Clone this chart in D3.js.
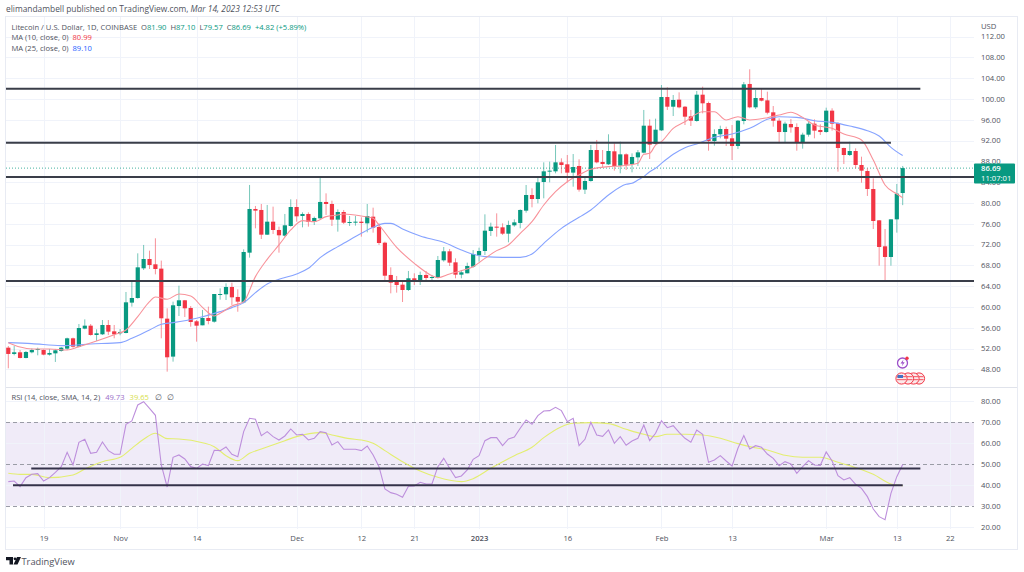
<!DOCTYPE html>
<html><head><meta charset="utf-8">
<script src="https://cdn.jsdelivr.net/npm/d3@7"></script>
<style>html,body{margin:0;padding:0;background:#fff}svg{display:block}text{font-family:"Open Sans","Noto Sans",sans-serif}</style>
</head><body><svg id="c" width="1024" height="572"></svg>
<script>
const opens=[52.16,50.95,51.27,50.18,51.27,51.78,51.71,50.82,51.07,51.52,51.97,53.96,52.35,55.82,56.39,54.6,54.73,56.52,55.3,54.92,54.98,60.82,61.71,67.42,69.21,68.19,67.36,57.74,50.44,60.17,61.27,59.79,57.23,56.46,57.87,57.16,62.42,62.42,63.83,61.91,60.88,70.43,78.83,78.64,73.89,76.39,74.79,73.7,75.56,79.21,77.48,77.87,76.33,77.04,80.18,79.79,76.78,78.25,76.2,76.26,76.39,76.07,77.35,75.37,72.35,66.14,64.85,64.28,63.25,65.5,65.05,66.14,65.62,65.56,68.96,70.69,68.57,66.2,66.46,67.74,69.92,70.75,74.6,75.43,75.3,74.08,75.69,76.14,78.51,81.52,80.75,84.02,86.07,86.07,87.8,87.42,85.82,87.1,82.55,84.21,90.17,87.87,87.42,89.92,87.16,89.34,87.48,88.76,89.66,94.85,91.33,93.95,100.36,98.5,99.85,98.5,96.65,95.75,100.81,99.21,91.9,93.19,94.21,92.42,90.94,95.75,102.87,98.38,100.17,99.72,97.42,95.81,93.63,95.17,94.6,91.65,93.12,95.24,94.02,93.63,97.74,95.37,90.56,89.21,89.98,87.29,86.13,82.67,76.65,71.65,69.6,76.84,81.9];
const highs=[52.48,52.48,51.71,51.52,52.03,52.16,51.84,51.91,51.91,52.29,54.09,54.09,56.71,57.6,56.71,55.69,57.48,57.48,56.52,55.75,62.87,64.79,70.3,71.91,70.82,73.19,68.9,59.73,61.01,64.08,61.33,60.17,57.48,59.41,60.05,62.48,63.57,64.53,64.66,63.38,71.07,83.45,79.41,79.79,79.6,79.28,75.43,77.87,80.69,80.69,78.19,78.19,77.36,84.92,81.84,80.43,78.76,78.64,77.48,77.48,77.23,79.79,79.08,76.07,72.55,67.61,65.94,65.17,66.91,66.46,66.78,66.91,66.14,69.79,71.52,71.14,69.34,67.1,68.51,70.94,71.39,77.8,76.2,77.99,76.07,76.58,76.84,78.76,83.44,82.8,84.85,87.8,87.93,91.14,88.57,89.21,89.4,88.38,85.05,91.14,92.1,90.17,93.19,91.46,91.78,89.53,89.53,90.17,97.87,96.07,96.2,102.67,102.22,100.75,101.26,98.63,97.87,101.52,102.35,99.47,94.15,94.85,94.66,94.98,95.94,103.25,105.69,101.71,102.03,101.39,98.63,96.26,95.62,96.13,95.3,93.5,95.62,96.07,95.11,98.31,98.19,95.49,90.62,91.77,90.49,88.89,86.65,84.72,76.71,74.98,76.84,83.64,87.1];
const lows=[48.19,50.69,50.11,50.11,51.07,50.69,50.69,50.63,49.41,51.39,51.71,52.16,52.23,55.69,54.47,53.45,54.6,54.6,53.96,54.54,54.92,60.05,61.58,67.1,67.29,66.26,53.96,47.55,49.47,58.25,58.06,56.2,53.32,56.46,56.65,56.97,61.39,61.33,60.37,59.07,60.69,69.47,75.11,73.06,73.83,74.02,70.43,73.51,75.43,76.39,75.3,75.43,75.75,76.84,77.68,75.56,74.47,75.94,75.56,75.62,73.51,74.34,74.28,71.91,65.17,62.61,62.74,60.94,63.06,64.21,64.21,64.85,65.05,65.5,68.7,67.87,65.5,65.5,66.46,67.55,68.7,69.98,73.64,73.51,73.83,72.42,75.43,75.11,78.12,79.15,79.92,80.88,83.96,85.69,85.69,83.89,83.12,82.16,81.71,84.08,87.61,86.84,87.29,86.2,85.69,86.33,85.88,87.1,89.53,88.44,91.2,93.83,97.87,96.71,98.19,94.98,94.79,95.62,97.22,90.04,91.0,92.42,90.94,88.25,90.36,95.11,98.19,98.06,99.53,97.03,94.66,91.58,91.58,93.5,90.04,90.43,92.74,92.42,93.06,93.5,93.89,86.01,87.48,89.02,86.65,83.89,81.33,74.98,67.93,65.17,67.93,74.28,79.57];
const closes=[50.95,51.27,50.18,51.33,51.71,51.91,50.82,51.14,51.65,52.16,53.96,52.35,55.94,56.39,54.6,54.92,56.52,55.24,54.73,55.18,60.88,61.71,67.61,69.21,68.06,67.29,57.81,50.31,60.31,61.27,59.73,57.1,56.39,57.87,57.29,62.48,62.48,63.83,61.84,61.01,70.56,78.83,78.51,73.89,76.39,74.79,73.77,75.69,79.21,77.42,77.87,76.33,77.1,80.18,79.79,76.78,78.25,76.2,76.33,76.39,76.14,77.48,75.24,72.29,66.0,64.66,64.21,63.25,65.5,64.98,66.14,65.56,65.75,69.02,70.69,68.51,66.2,66.65,67.87,70.17,70.75,74.66,75.43,75.24,74.08,75.75,76.26,78.64,81.52,80.75,83.96,86.07,86.2,87.8,87.29,85.82,86.9,82.55,84.21,90.17,87.8,87.48,89.98,87.1,89.34,87.35,88.83,89.72,94.85,91.2,94.08,100.36,98.5,99.79,98.38,96.58,95.81,100.81,99.15,91.9,93.25,94.21,92.35,90.94,95.81,102.8,98.38,100.17,99.66,97.35,95.81,93.63,95.24,94.53,91.65,93.12,95.24,93.89,93.63,97.74,95.24,90.56,89.21,89.98,87.29,86.2,82.67,76.52,71.52,69.6,76.84,81.78,86.69];
const rsi=[41.56,41.87,39.16,43.47,45.06,45.38,41.87,43.47,46.02,48.73,55.59,49.53,60.38,61.81,55.11,55.59,60.54,56.39,54.63,54.63,68.99,70.58,78.24,79.83,76.65,73.3,49.53,39.0,53.2,54.31,52.4,48.73,47.93,50.01,49.21,56.55,56.39,58.14,54.63,53.52,65.48,71.86,71.38,63.57,65.48,63.09,61.49,63.41,66.76,63.88,64.2,61.49,62.29,65.48,65.0,59.1,60.7,57.03,57.03,57.03,56.39,58.62,54.31,48.73,38.05,36.29,35.49,34.06,39.32,39.48,41.24,40.44,40.44,48.73,52.72,47.93,43.47,44.27,47.14,52.24,53.99,61.17,62.61,62.61,58.78,61.97,62.93,67.08,71.06,68.99,73.14,75.37,75.53,77.12,75.53,70.26,71.86,58.78,61.81,69.95,63.88,63.25,66.28,59.9,63.09,58.94,61.01,62.29,68.67,61.17,64.68,70.74,67.39,68.35,65.16,62.29,60.38,66.28,64.2,50.81,51.92,54.0,51.44,49.05,57.5,63.57,57.19,58.78,57.98,54.79,52.72,49.21,51.12,50.01,45.54,48.73,51.6,49.53,49.37,55.75,51.44,44.43,42.35,43.47,40.28,38.36,34.38,28.48,24.81,23.37,35.97,43.95,49.73];
const ma10Days=[0,2,4,7,10,12,15,18,20,22,24,25,27,29,31,33,35,36,38,40,42,44,46,48,50,52,54,56,57,60,62,63,66,69,72,73,75,77,79,81,83,85,87,89,91,93,95,97,99,102,104,107,108,109,110,111,113,115,118,120,122,124,126,129,131,133,135,137,140,142,145,147,149,151,152];
const ma10Vals=[53.13,52.29,51.91,51.91,51.71,52.36,53.45,54.66,55.56,58.13,61.01,61.91,61.46,62.48,62.1,59.92,58.25,58.77,60.18,61.01,65.82,69.15,71.91,74.79,76.59,76.39,77.36,77.68,77.87,77.48,77.03,75.75,71.46,68.38,66.01,65.62,66.33,66.97,67.74,69.34,70.82,71.91,74.15,76.39,79.6,82.16,84.08,85.37,86.46,86.97,87.1,87.61,89.34,89.53,91.13,91.78,94.34,95.62,97.54,97.54,95.94,96.58,95.94,96.39,96.9,97.42,96.45,94.98,94.34,93.25,92.1,88.25,83.44,81.71,80.99];
const ma25Days=[0,4,9,14,19,21,24,26,28,32,36,38,40,42,44,46,49,51,53,56,57,60,62,64,65,67,70,74,77,79,81,84,87,89,91,94,97,99,102,105,106,107,108,109,110,111,113,115,117,120,123,126,129,131,134,137,140,143,146,148,150,152];
const ma25Vals=[53.13,52.93,52.55,52.87,53.13,53.96,55.56,56.65,56.97,57.81,59.09,59.86,60.82,62.74,64.41,65.3,66.33,67.42,69.47,71.59,72.23,74.15,75.3,76.07,76.07,74.98,73.64,72.42,70.94,70.11,69.66,69.53,69.53,70.17,72.23,75.11,77.23,78.64,81.52,83.57,83.76,84.4,85.05,86.0,86.65,87.6,89.34,90.62,91.33,92.61,93.25,94.34,96.07,96.58,96.45,95.81,95.49,94.79,93.89,92.87,90.69,89.1];
const rsiMaDays=[0,2,4,7,11,13,16,19,21,23,25,27,29,33,35,37,39,41,43,47,49,53,55,58,60,62,64,67,70,73,77,79,82,86,89,91,94,96,99,102,105,108,110,112,115,118,121,124,126,129,132,135,138,141,144,147,150,152];
const rsiMaVals=[45.54,45.06,45.06,43.47,44.74,47.62,51.12,53.2,57.5,61.81,64.68,62.13,61.97,60.2,58.3,53.99,51.6,55.11,57.19,61.17,63.09,65.0,63.88,62.13,61.49,59.9,56.39,51.12,46.66,43.63,41.55,42.99,47.93,53.99,57.98,62.61,67.87,69.47,69.79,69.31,66.6,64.2,63.09,64.2,64.2,63.88,62.29,59.74,58.3,56.71,54.16,53.2,53.2,50.8,48.25,45.06,40.44,39.65];
const priceTicks=[112,108,104,100,96,92,88,84,80,76,72,68,64,60,56,52,48];
const rsiTicks=[80,70,60,50,40,30,20];
const rsiDashed=[70,50,30];
const tickDays=[6,19,32,49,60,69,80,95,111,123,139,151,160];
const tickLabels=["19","Nov","14","Dec","12","21","2023","16","Feb","13","Mar","13","22"];
const tickBold=["2023"];
// horizontal levels: [value, startDay, endDay]
const priceLevels=[[101.96,-1,155],[91.58,-1,150],[84.98,-1,164.8],[64.98,-1,164.8]];
const rsiLevels=[[47.9,3.9,155],[39.8,0.8,152]];
const lastClose=86.69, countdown="11:07:01";
const headerText="elimandambell published on TradingView.com, ";
const headerDate="Mar 14, 2023 12:53 UTC";

const G="#089981",R="#f23645",INK="#131722",TXT="#50535e",GRID="#f0f3fa",BLK="#3a3e49";
const L=6,AX=974,RT=1017,TOP=17,SEP=387,BOT=549,TB=529;
const svg=d3.select("#c");
const x=d3.scaleLinear().domain([0,152]).range([8.3,902.7]);
const y=d3.scaleLinear().domain([48,112]).range([369.3,36.5]);
const yr=d3.scaleLinear().domain([20,80]).range([526.7,401.3]);

const defs=svg.append("defs");
defs.append("clipPath").attr("id","cp").append("rect").attr("x",L).attr("y",TOP).attr("width",AX-L).attr("height",SEP-TOP);
defs.append("clipPath").attr("id","cr").append("rect").attr("x",L).attr("y",SEP).attr("width",AX-L).attr("height",TB-SEP+4);

svg.append("rect").attr("x",L).attr("width",AX-L).attr("y",yr(70)).attr("height",yr(30)-yr(70)).attr("fill","#f0ebf8");

const hg=svg.append("g").attr("stroke",GRID).attr("stroke-width",1);
hg.selectAll("line.p").data(priceTicks).join("line").attr("x1",L).attr("x2",AX).attr("y1",d=>Math.round(y(d))+.5).attr("y2",d=>Math.round(y(d))+.5);
hg.selectAll("line.r").data(rsiTicks.filter(d=>!rsiDashed.includes(d))).join("line").attr("class","r").attr("x1",L).attr("x2",AX).attr("y1",d=>Math.round(yr(d))+.5).attr("y2",d=>Math.round(yr(d))+.5);
hg.selectAll("line.v").data(tickDays).join("line").attr("class","v").attr("x1",d=>Math.round(x(d))+.5).attr("x2",d=>Math.round(x(d))+.5).attr("y1",TOP).attr("y2",BOT-20);

svg.append("rect").attr("x",L-.5).attr("y",TOP-.5).attr("width",RT-L+1).attr("height",BOT-TOP+1).attr("fill","none").attr("stroke","#e8ebf3");
svg.append("line").attr("x1",L).attr("x2",RT).attr("y1",SEP+.5).attr("y2",SEP+.5).attr("stroke","#e0e3eb");

svg.append("g").selectAll("line").data(rsiDashed).join("line").attr("x1",L).attr("x2",AX)
 .attr("y1",d=>Math.round(yr(d))+.5).attr("y2",d=>Math.round(yr(d))+.5).attr("stroke","#9a9ca6").attr("stroke-dasharray","4 3");

const pp=svg.append("g").attr("clip-path","url(#cp)");
pp.append("line").attr("x1",L).attr("x2",AX).attr("y1",y(lastClose)).attr("y2",y(lastClose)).attr("stroke",G).attr("stroke-opacity",.75).attr("stroke-dasharray","1 2");

const idx=d3.range(opens.length);
const col=i=>closes[i]>=opens[i]?G:R;
pp.append("g").selectAll("line").data(idx).join("line")
 .attr("x1",i=>x(i)).attr("x2",i=>x(i)).attr("y1",i=>y(highs[i])).attr("y2",i=>y(lows[i]))
 .attr("stroke",col).attr("stroke-width",1).attr("stroke-opacity",.55);
pp.append("g").selectAll("rect").data(idx).join("rect")
 .attr("x",i=>x(i)-2.1).attr("width",4.2)
 .attr("y",i=>Math.min(y(opens[i]),y(closes[i])))
 .attr("height",i=>Math.max(1,Math.abs(y(opens[i])-y(closes[i]))))
 .attr("fill",col);

const lineP=d3.line().x(d=>x(d[0])).y(d=>y(d[1])).curve(d3.curveMonotoneX);
pp.append("path").attr("d",lineP(d3.zip(ma25Days,ma25Vals))).attr("fill","none").attr("stroke","#86a3ff").attr("stroke-width",1.1);
pp.append("path").attr("d",lineP(d3.zip(ma10Days,ma10Vals))).attr("fill","none").attr("stroke","#f8929a").attr("stroke-width",1.1);

pp.append("g").selectAll("line").data(priceLevels).join("line")
 .attr("x1",d=>x(d[1])).attr("x2",d=>x(d[2])).attr("y1",d=>y(d[0])).attr("y2",d=>y(d[0]))
 .attr("stroke",BLK).attr("stroke-width",2);

const rp=svg.append("g").attr("clip-path","url(#cr)");
const lineR=d3.line().x(d=>x(d[0])).y(d=>yr(d[1]));
rp.append("path").attr("d",d3.line().x(d=>x(d[0])).y(d=>yr(d[1])).curve(d3.curveMonotoneX)(d3.zip(rsiMaDays,rsiMaVals))).attr("fill","none").attr("stroke","#e3ee70").attr("stroke-width",1.1);
rp.append("path").attr("d",lineR(d3.zip(idx,rsi))).attr("fill","none").attr("stroke","#bd8fdc").attr("stroke-width",1.1);
rp.append("g").selectAll("line").data(rsiLevels).join("line")
 .attr("x1",d=>x(d[1])).attr("x2",d=>x(d[2])).attr("y1",d=>yr(d[0])).attr("y2",d=>yr(d[0]))
 .attr("stroke","#34324a").attr("stroke-width",2);

const AXF=7.7;
const styleAxis=g=>{g.select(".domain").remove();g.selectAll("line").remove();g.selectAll("text").attr("fill",TXT).attr("font-size",AXF).attr("font-family",'"Open Sans",sans-serif');};
svg.append("g").attr("transform",`translate(${AX+7},0)`)
 .call(d3.axisRight(y).tickValues(priceTicks).tickFormat(d3.format(".2f")).tickSize(0).tickPadding(0)).call(styleAxis);
svg.append("g").attr("transform",`translate(${AX+7},0)`)
 .call(d3.axisRight(yr).tickValues(rsiTicks).tickFormat(d3.format(".2f")).tickSize(0).tickPadding(0)).call(styleAxis);
const lab=d3.scaleOrdinal(tickDays,tickLabels);
const tAx=svg.append("g").attr("transform",`translate(0,536)`)
 .call(d3.axisBottom(x).tickValues(tickDays).tickFormat(d=>lab(d)).tickSize(0).tickPadding(0)).call(styleAxis);
tAx.selectAll("text").attr("font-weight",d=>tickBold.includes(lab(d))?600:400);

const by=y(lastClose)-4.5;
svg.append("rect").attr("x",AX).attr("y",by).attr("width",RT-2-AX).attr("height",20).attr("rx",1).attr("fill",G);
svg.append("text").attr("x",AX+7).attr("y",by+7.7).attr("fill","#fff").attr("font-size",AXF).attr("font-weight",600).text(d3.format(".2f")(lastClose));
svg.append("text").attr("x",AX+7).attr("y",by+16.9).attr("fill","#fff").attr("font-size",AXF).text(countdown);
svg.append("text").attr("x",981).attr("y",28.5).attr("fill",TXT).attr("font-size",AXF).text("USD");

const h=svg.append("text").attr("x",6).attr("y",12).attr("fill",TXT).attr("font-size",8.4);
h.append("tspan").text(headerText);
h.append("tspan").attr("font-style","italic").text(headerDate);

function legend(yy,parts,xx){const t=svg.append("text").attr("x",xx).attr("y",yy).attr("font-size",7.6);
 parts.forEach(p=>{const s=t.append("tspan").attr("fill",p[1]).text(p[0]);if(p[2])s.attr("dx",p[2]);});}
legend(29.5,[["Litecoin / U.S. Dollar, 1D, COINBASE",TXT],["O",TXT,4],["81.90",G],["H",TXT,4],["87.10",G],["L",TXT,4],["79.57",G],["C",TXT,4],["86.69",G],["+4.82 (+5.89%)",G,4]],11.5);
legend(40,[["MA (10, close, 0)",TXT],["80.99",R,4]],11.5);
legend(51,[["MA (25, close, 0)",TXT],["89.10","#2962ff",4]],11.5);
legend(400,[["RSI (14, close, SMA, 14, 2)",TXT],["49.73","#9c6fc9",5],["39.65","#d7e04a",5],["\u2205",TXT,6],["\u2205",TXT,5]],11.5);

const ic=svg.append("g");
ic.append("circle").attr("cx",902.5).attr("cy",363).attr("r",5).attr("fill","#fff").attr("stroke","#9c4fc9").attr("stroke-width",1.3);
ic.append("path").attr("d","M903.5,359.5 L900.5,363.5 L902.7,363.5 L901.7,366.5 L904.7,362.2 L902.7,362.2 Z").attr("fill","#9c4fc9");
ic.append("circle").attr("cx",907).attr("cy",358.3).attr("r",1.7).attr("fill",R);
[919,913.5,908,901.5].forEach(cx=>{
 ic.append("circle").attr("cx",cx).attr("cy",378.5).attr("r",5.6).attr("fill","#fbe9ea").attr("stroke",R).attr("stroke-width",1);
 ic.append("rect").attr("x",cx-4.5).attr("y",376).attr("width",9).attr("height",1.2).attr("fill",R).attr("fill-opacity",.7);
 ic.append("rect").attr("x",cx-4.5).attr("y",379).attr("width",9).attr("height",1.2).attr("fill",R).attr("fill-opacity",.7);
});
ic.append("rect").attr("x",897.5).attr("y",375).attr("width",5.5).attr("height",3).attr("fill","#4472c4");

const tv=svg.append("g").attr("fill","#131722");
tv.append("path").attr("d","M6,557 H13 V564.5 H9.5 V560.2 H6 Z M13.5,564.5 L17,557 H21 L17.5,564.5 Z");
tv.append("circle").attr("cx",15).attr("cy",558.8).attr("r",1.4);
svg.append("text").attr("x",21.5).attr("y",564.5).attr("fill","#50535e").attr("font-size",9.3).text("TradingView");
</script></body></html>
